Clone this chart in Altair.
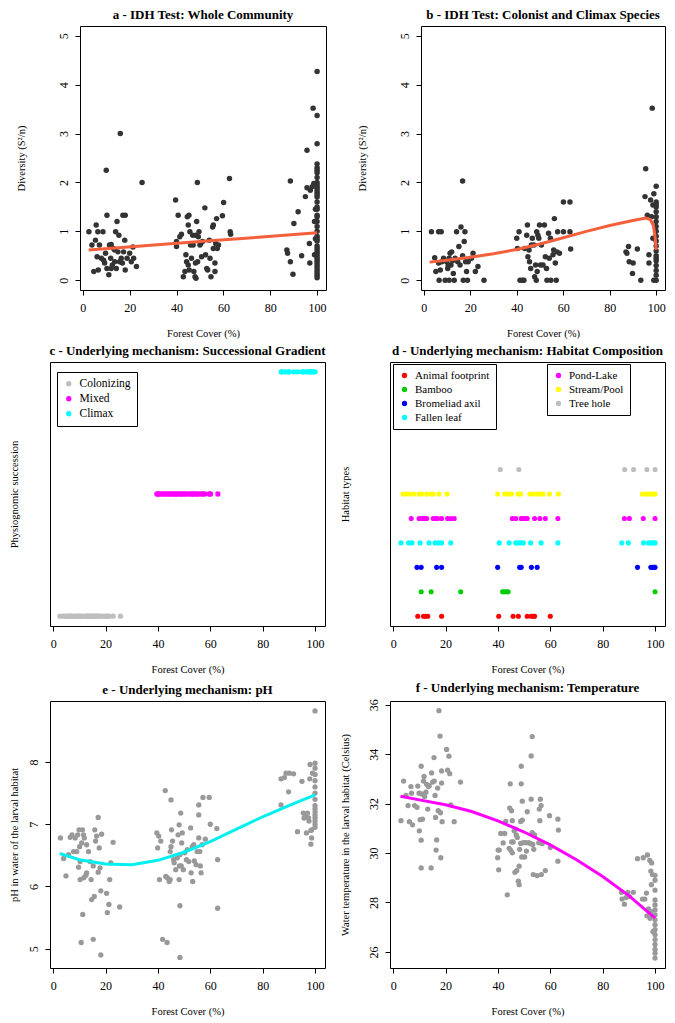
import altair as alt
import pandas as pd

FONT = "Liberation Serif"

# ---------------- data ----------------
forest_ticks = [0, 20, 40, 60, 80, 100]
div_ticks = [0, 1, 2, 3, 4, 5]
ph_ticks = [5, 6, 7, 8]
temp_ticks = [26, 28, 30, 32, 34, 36]

# a - whole community (forest cover, diversity)
a_low = [(2.6,0.99),(3.9,0.72),(4.7,0.18),(5.7,1.13),(5.4,0.82),(6.4,0.99),(6.1,0.48),(6.6,0.21),(7.1,0.72),(8.6,0.99),
         (7.9,0.45),(8.9,0.41),(9.3,0.35),(10.0,2.25),(10.3,1.33),(9.7,0.55),(10.3,0.24),(11.1,0.11),(11.4,0.72),(12.1,0.73),
         (11.9,0.45),(12.6,0.31),(13.1,0.65),(13.6,0.38),(14.0,0.99),(14.6,1.2),(16.0,3.0),(15.4,0.92),(15.0,0.58),(15.7,0.38),
         (16.4,0.45),(17.1,1.33),(18.1,1.33),(17.9,0.82),(17.4,0.58),(18.1,0.21),(16.9,0.35),(18.9,0.45),(20.0,0.55),(20.7,0.38),
         (21.4,0.68),(21.7,0.45),(22.9,0.28),(25.3,2.0),(13.6,0.62),(12.1,0.24),(14.3,0.24)]
a_mid = [(39.6,1.64),(40.0,0.79),(40.0,0.69),(40.7,1.33),(41.4,0.89),(42.1,0.94),(42.9,0.07),(43.6,0.18),(44.0,0.52),(44.6,1.30),
         (45.0,1.13),(44.3,0.38),(45.0,0.31),(45.4,0.21),(45.3,1.33),(45.7,0.99),(46.0,0.72),(46.4,0.45),(46.9,0.92),(47.1,0.72),
         (47.4,0.18),(47.9,0.07),(48.3,0.04),(48.1,0.35),(48.3,0.92),(48.6,1.20),(48.9,2.00),(49.0,0.38),(49.3,0.89),(49.6,0.99),
         (50.0,0.72),(50.3,0.75),(50.7,0.48),(51.1,0.79),(52.1,1.48),(52.4,0.52),(52.9,0.24),(53.3,0.21),(54.0,0.82),(54.3,0.45),
         (54.7,0.07),(55.4,1.09),(55.7,1.13),(55.7,0.65),(56.4,0.18),(56.4,0.35),(56.7,0.75),(57.1,1.26),(57.4,0.65),(57.9,0.72),
         (59.6,1.32),(60.1,1.59),(62.6,2.08),(62.9,0.99),(63.1,0.94)]
a_high = [(87.1,0.62),(87.4,0.55),(88.6,2.03),(88.6,0.38),(89.7,0.12),(90.1,1.16),(91.9,1.40),(93.4,0.50),(95.0,1.71),(95.7,2.66),
          (95.7,1.89),(96.7,0.75),(96.9,0.35),(97.1,1.84),(97.9,1.91),(98.3,3.52),(98.6,1.98),(98.9,1.20),(98.9,0.52),(99.3,1.45),
          (99.3,0.85)]
a_full_cover = [4.27,3.37,2.79,2.38,2.30,2.25,2.20,2.10,2.00,1.95,1.90,1.85,1.80,1.75,1.70,1.60,1.50,1.45,1.33,1.30,
                1.20,1.10,1.00,0.90,0.85,0.80,0.70,0.65,0.60,0.55,0.50,0.45,0.40,0.35,0.30,0.25,0.20,0.15,0.10,0.05]
a_fit = [(2.5,0.62),(25,0.70),(50,0.79),(75,0.88),(100,0.97)]

# b - colonist and climax species
b_low = [(3.3,0.99),(4.7,0.46),(5.2,0.18),(6.4,0.99),(7.5,0.99),(6.6,0.0),(6.4,0.35),(7.1,0.21),(7.8,0.38),(8.5,0.45),
         (9.2,0.0),(9.9,0.38),(10.3,0.24),(10.9,0.0),(10.9,0.45),(11.3,0.55),(11.7,0.31),(12.0,0.58),(12.7,0.14),(13.1,0.0),
         (13.5,0.45),(14.1,0.99),(14.6,0.38),(15.1,0.69),(15.6,0.31),(16.0,1.09),(16.7,2.03),(16.7,0.50),(17.0,0.0),(17.4,0.79),
         (17.7,0.99),(18.0,0.38),(18.4,0.18),(18.8,0.0),(19.1,0.38),(20.5,0.45),(21.2,0.55),(22.2,0.18),(23.3,0.28),(25.9,0.0),
         (10.5,0.30),(12.3,0.40)]
b_mid = [(40.0,0.86),(40.3,0.65),(41.0,0.99),(41.4,0.0),(42.4,0.0),(43.1,0.0),(43.4,0.65),(44.3,0.92),(44.6,1.13),(44.8,0.48),
         (45.3,0.62),(45.5,0.38),(46.0,0.24),(46.3,0.72),(46.7,0.86),(47.4,0.72),(47.7,0.07),(48.1,0.31),(48.4,0.0),(48.6,0.99),
         (48.8,0.18),(49.1,0.92),(49.5,0.86),(49.8,1.13),(50.2,0.31),(50.6,0.72),(51.3,0.31),(51.9,1.13),(52.3,0.48),(52.8,0.24),
         (53.0,0.0),(53.7,0.96),(54.0,0.45),(54.5,0.86),(54.7,0.0),(55.6,0.52),(56.2,1.26),(55.9,0.62),(56.6,0.35),(57.0,0.0),
         (57.3,0.58),(57.6,0.99),(58.4,0.55),(60.1,1.6),(60.1,0.99),(62.9,1.6),(62.9,0.99),(63.2,0.64)]
b_high = [(87.0,0.58),(87.4,0.55),(88.1,0.69),(88.4,0.38),(89.8,0.14),(90.1,0.35),(91.9,0.64),(93.4,0.0),(95.2,1.71),(95.5,2.28),
          (96.2,1.33),(96.9,0.52),(96.9,0.35),(97.6,1.64),(98.0,1.30),(98.3,3.52),(98.6,1.54),(98.6,0.86),(99.0,1.77),(99.0,0.0)]
b_full_cover = [1.92,1.60,1.55,1.50,1.40,1.30,1.20,1.10,1.00,0.90,0.80,0.70,0.60,0.50,0.45,0.40,0.30,0.20,0.10,0.0]
b_fit = [(2.5,0.37),(10,0.41),(20,0.47),(30,0.54),(40,0.63),(50,0.74),(60,0.87),(70,1.0),(80,1.12),(90,1.22),
         (95.5,1.27),(97.5,1.24),(98.8,1.12),(99.5,0.9),(100,0.62)]

# c - successional stage
stages = ["Colonizing", "Mixed", "Climax"]
stage_colors = ["#BEBEBE", "#FF00FF", "#00FFFF"]
c_colonizing = [2.6,3.9,4.7,5.4,6.1,6.6,7.1,7.9,8.6,9.3,10.0,10.3,11.1,11.9,12.6,13.1,13.6,14.0,14.6,15.0,15.4,16.0,
                16.4,16.9,17.4,18.1,18.9,20.0,20.7,21.4,22.9,25.7]
c_mixed = [39.6,40.0,40.7,41.4,42.1,42.9,43.6,44.3,45.0,45.7,46.4,46.9,47.4,48.3,48.9,49.6,50.3,51.1,52.1,52.9,53.3,
           54.0,54.7,55.4,56.4,57.1,57.9,59.6,60.1,62.9]
c_climax = [87.1,87.4,88.6,89.7,90.1,91.9,93.4,95.0,95.7,96.7,97.1,97.9,98.3,98.9,99.3,100.0]

# d - habitat composition
habitats = ["Animal footprint", "Bamboo", "Bromeliad axil", "Fallen leaf", "Pond-Lake", "Stream/Pool", "Tree hole"]
hab_colors = ["#FF0000", "#00CD00", "#0000FF", "#00FFFF", "#FF00FF", "#FFFF00", "#BEBEBE"]
d_animal = [9.4,11.6,12.2,13.2,18.5,40.3,45.8,47.8,51.2,52.8,53.5,54.0,60.0]
d_bamboo = [10.7,14.5,25.8,41.8,42.4,43.3,43.9,100.0]
d_bromeliad = [9.1,10.7,16.6,18.5,39.9,48.3,48.9,52.8,55.0,93.3,98.4,99.0,99.6,100.0]
d_leaf = [3.0,5.9,7.2,10.3,13.7,16.0,17.2,18.5,22.0,40.5,44.3,46.8,47.7,48.7,49.7,52.5,56.5,62.9,87.3,89.8,95.6,97.5,
          98.4,99.2,100.0]
d_pond = [6.9,9.9,11.0,11.9,12.8,15.3,16.2,17.0,18.5,20.8,22.0,23.3,45.5,46.8,48.9,49.7,50.6,51.2,54.0,56.0,58.1,62.9,
          88.3,90.2,95.5,100.0]
d_stream = [3.8,4.9,6.2,7.8,9.9,10.9,12.8,14.5,15.3,17.5,20.6,39.9,42.6,43.9,45.2,47.7,48.7,52.2,53.5,55.2,56.2,57.2,
            59.7,63.1,95.2,96.5,97.5,98.4,99.2,100.0]
d_treehole = [40.9,48.0,88.4,91.8,96.9,100.0]

# e - pH
e_low = [(2.8,6.78),(4.0,6.45),(4.9,6.17),(5.9,6.51),(6.5,6.79),(7.2,6.83),(7.8,6.56),(8.4,6.78),(9.0,6.56),(9.4,6.83),
         (9.7,6.31),(9.9,6.91),(10.1,6.64),(10.3,6.40),(10.3,6.11),(10.7,5.10),(10.9,6.70),(11.2,6.91),(11.3,5.55),(11.6,6.83),
         (11.7,6.14),(11.9,6.78),(12.5,6.18),(12.8,6.67),(12.8,6.22),(13.5,6.56),(14.1,6.40),(14.5,6.11),(14.7,5.79),(15.3,5.15),
         (15.3,6.33),(15.7,5.84),(15.9,6.91),(16.2,6.73),(16.6,6.81),(17.2,7.11),(17.2,6.23),(17.6,6.62),(17.9,6.30),(18.2,5.93),
         (18.2,4.90),(18.5,6.84),(20.4,5.89),(20.7,5.58),(21.3,5.71),(21.6,6.11),(22.0,6.38),(22.9,6.71),(25.4,5.67)]
e_mid = [(39.6,6.86),(39.9,6.62),(40.3,6.81),(40.6,6.11),(41.1,6.73),(41.8,5.15),(42.8,7.54),(43.0,6.16),(43.5,5.10),(43.6,6.14),
         (44.3,6.08),(44.7,6.11),(44.7,6.56),(45.0,6.64),(45.0,7.39),(45.2,6.91),(45.6,6.73),(46.0,6.43),(46.2,6.38),(46.8,6.27),
         (47.4,6.46),(47.7,6.83),(48.1,6.99),(48.1,6.11),(48.2,6.33),(48.4,4.86),(48.4,5.69),(48.4,6.51),(48.7,7.18),(48.9,6.33),
         (49.1,6.70),(49.3,6.86),(49.7,6.27),(50.2,6.54),(50.9,6.43),(51.2,6.59),(51.8,6.40),(52.5,6.94),(52.7,6.22),(53.1,6.64),
         (53.3,6.08),(53.7,6.67),(53.9,6.41),(54.6,6.35),(55.0,6.56),(55.6,7.31),(55.6,7.15),(55.6,6.78),(56.0,6.56),(56.2,6.33),
         (56.5,6.22),(56.9,6.67),(57.2,7.43),(58.1,6.76),(59.6,7.43),(60.0,7.00),(62.5,6.93),(62.8,6.43),(62.8,5.65)]
e_high = [(87.0,7.73),(87.0,7.31),(88.3,7.75),(88.9,7.82),(89.9,7.52),(90.2,7.82),(91.8,7.81),(93.3,6.88),(95.0,7.69),(95.5,7.18),
          (95.8,7.10),(96.5,7.15),(96.7,6.86),(97.1,7.18),(97.5,7.10),(97.7,7.05),(98.0,7.73),(98.1,7.96),(98.4,6.68),(98.4,6.90),
          (98.7,6.91),(98.7,6.78),(99.0,7.82)]
e_full_cover = [8.82,7.98,7.90,7.80,7.70,7.60,7.50,7.40,7.30,7.25,7.20,7.15,7.10,7.05,7.00,6.95]
e_fit = [(2.5,6.53),(10,6.43),(20,6.36),(30,6.35),(40,6.42),(50,6.55),(60,6.72),(70,6.92),(80,7.12),(90,7.30),(100,7.47)]

# f - temperature
f_low = [(3.0,31.31),(4.0,32.91),(4.9,32.33),(5.7,31.92),(6.2,31.27),(6.8,32.69),(7.0,32.42),(7.4,31.14),(8.2,31.92),(9.1,31.85),
         (9.4,32.71),(9.9,32.42),(10.0,30.90),(10.3,31.35),(10.7,33.51),(10.7,30.52),(10.7,29.40),(10.9,32.39),(11.2,31.37),(11.6,32.91),
         (11.8,33.10),(12.0,32.29),(12.5,32.46),(12.8,32.78),(13.2,31.78),(13.5,32.69),(13.8,32.73),(14.5,29.40),(14.7,33.24),(15.1,32.87),
         (15.6,33.86),(15.7,32.91),(16.0,32.33),(16.2,31.44),(16.4,30.12),(16.6,30.53),(17.0,32.63),(17.2,31.71),(17.5,35.76),(17.9,34.73),
         (18.1,31.63),(18.2,29.81),(18.5,32.83),(18.5,33.32),(18.7,31.27),(20.4,34.19),(20.8,33.35),(21.3,33.92),(21.6,33.21),(22.0,31.95),
         (23.3,31.27),(25.7,32.87)]
f_mid = [(39.9,29.81),(40.1,30.12),(40.3,29.32),(40.5,30.12),(41.1,30.79),(42.0,30.41),(42.6,30.79),(43.0,31.28),(43.6,28.31),(44.3,30.19),
         (44.5,31.82),(44.7,32.80),(44.9,30.11),(45.2,31.71),(45.3,30.45),(45.5,30.01),(45.5,31.31),(45.8,30.45),(46.2,30.90),(46.5,29.22),
         (46.8,30.97),(47.0,30.73),(47.2,29.29),(47.4,30.63),(47.8,28.86),(48.1,28.72),(48.1,29.47),(48.3,30.15),(48.7,30.39),(48.7,31.28),
         (48.9,32.80),(48.9,33.51),(49.1,29.84),(49.3,31.33),(49.3,32.10),(49.7,30.42),(50.2,29.84),(50.6,30.42),(50.9,30.08),(51.2,31.67),
         (51.8,30.42),(52.5,30.38),(52.7,33.93),(52.7,32.18),(53.1,34.71),(53.1,30.83),(53.3,30.35),(53.5,29.13),(53.7,30.15),(54.0,30.73),
         (55.0,29.09),(55.6,30.42),(55.8,31.78),(56.0,31.31),(56.2,32.18),(56.5,31.92),(56.6,29.13),(56.9,30.38),(58.1,29.29),(59.7,31.51),
         (60.0,30.22),(62.9,31.37),(63.1,30.93),(62.9,29.67)]
f_high = [(87.2,28.41),(87.4,28.14),(88.3,27.93),(88.9,28.20),(89.6,28.41),(90.2,28.24),(91.7,28.41),(93.3,29.77),(95.2,28.14),(95.5,29.81),
          (96.1,28.14),(96.7,28.38),(96.9,27.46),(97.1,29.92),(97.5,27.74),(98.0,29.70),(98.1,27.36),(98.4,29.27),(98.4,27.63),(98.6,28.72),
          (98.7,29.60),(99.0,29.13),(99.2,26.82)]
f_full_cover = [29.1,28.9,28.5,28.1,27.9,27.7,27.5,27.3,27.1,26.9,26.7,26.5,26.3,26.1,25.95,25.75]
f_fit = [(2.8,32.30),(10,32.15),(20,31.95),(30,31.68),(40,31.30),(50,30.85),(60,30.33),(70,29.73),(80,29.05),(90,28.28),(100,27.37)]

# ---------------- helpers ----------------
XDOM = [-1.2, 103.8]
W_TOP_A, W_TOP_B = 246, 244
W_L, W_R = 275, 275
H1, H2, H3 = 264, 264, 267


def frame(pairs):
    return pd.DataFrame(pairs, columns=["x", "y"])


def title(text):
    return alt.TitleParams(text=text, font=FONT, fontSize=13, fontWeight="bold", anchor="middle",
                           offset=4, color="black")


def xenc():
    return alt.X("x:Q", scale=alt.Scale(domain=XDOM, nice=False, zero=False),
                 axis=alt.Axis(values=forest_ticks, title="Forest Cover (%)", labelPadding=7,
                               titlePadding=15, labelAngle=0))


def yenc(domain, ticks, ttl, tx, h):
    ax = alt.Axis(values=ticks, title=ttl, labelAngle=270, labelAlign="center", labelBaseline="bottom",
                  labelPadding=5, titleX=tx, titleY=h / 2, titleAngle=270, titleAlign="center",
                  titleBaseline="middle")
    return alt.Y("y:Q", scale=alt.Scale(domain=domain, nice=False, zero=False), axis=ax)


def yenc_blank(domain, ttl, tx, h):
    ax = alt.Axis(labels=False, ticks=False, title=ttl, titleX=tx, titleY=h / 2, titleAngle=270,
                  titleAlign="center", titleBaseline="middle")
    return alt.Y("y:Q", scale=alt.Scale(domain=domain, nice=False, zero=False), axis=ax)


def scatter_fit(pts, fit, ydom, yticks, ytitle, tx, w, h, pcol, lcol, ttl, size):
    xe = xenc()
    ye = yenc(ydom, yticks, ytitle, tx, h)
    p = alt.Chart(frame(pts)).mark_circle(size=size, color=pcol, opacity=1).encode(x=xe, y=ye)
    l = alt.Chart(frame(fit)).mark_line(color=lcol, strokeWidth=3).encode(x=xe, y=ye)
    return alt.layer(p, l).properties(width=w, height=h, title=title(ttl))


div_title = "Diversity  (S²/n)"
pa = scatter_fit(a_low + a_mid + a_high + [(100.0, v) for v in a_full_cover], a_fit, [-0.2, 5.2], div_ticks,
                 div_title, -59, W_TOP_A, H1, "#333333", "#F4603C", "a - IDH Test: Whole Community", 30)
pb = scatter_fit(b_low + b_mid + b_high + [(100.0, v) for v in b_full_cover], b_fit, [-0.2, 5.2], div_ticks,
                 div_title, -59, W_TOP_B, H1, "#333333", "#F4603C", "b - IDH Test: Colonist and Climax Species", 30)
pe = scatter_fit(e_low + e_mid + e_high + [(100.0, v) for v in e_full_cover], e_fit, [4.69, 8.98], ph_ticks,
                 "pH in water of the larval habitat", -36, W_L, H3, "#999999", "#00F0F0",
                 "e - Underlying mechanism: pH", 28)
pf = scatter_fit(f_low + f_mid + f_high + [(100.0, v) for v in f_full_cover], f_fit, [25.35, 36.15], temp_ticks,
                 "Water temperature in the larval habitat (Celsius)", -45, W_R, H3, "#999999", "#FF00FF",
                 "f - Underlying mechanism: Temperature", 28)

# c panel
c_rows = ([(v, 1, "Colonizing") for v in c_colonizing] + [(v, 2, "Mixed") for v in c_mixed]
          + [(v, 3, "Climax") for v in c_climax])
c_df = pd.DataFrame(c_rows, columns=["x", "y", "stage"])


def legend(lx, ly, fs):
    return alt.Legend(title=None, orient="none", legendX=lx, legendY=ly, strokeColor="black",
                      fillColor="white", padding=6, symbolType="circle", symbolSize=28,
                      labelFont=FONT, labelFontSize=fs, labelColor="black", rowPadding=2,
                      labelOffset=5, cornerRadius=0, symbolStrokeWidth=0)


pc = alt.Chart(c_df).mark_circle(size=28, opacity=1).encode(
    x=xenc(),
    y=yenc_blank([0.92, 3.08], "Physiognomic succession", -36, H2),
    color=alt.Color("stage:N", scale=alt.Scale(domain=stages, range=stage_colors), legend=legend(7, 10, 11.5)),
).properties(width=W_L, height=H2, title=title("c - Underlying mechanism: Successional Gradient"))

# d panel
d_lists = [d_animal, d_bamboo, d_bromeliad, d_leaf, d_pond, d_stream, d_treehole]
d_rows = []
for i, (name, xs) in enumerate(zip(habitats, d_lists)):
    d_rows += [(v, i + 1, name) for v in xs]
d_df = pd.DataFrame(d_rows, columns=["x", "y", "hab"])
d_df1 = d_df[d_df["hab"].isin(habitats[:4])]
d_df2 = d_df[d_df["hab"].isin(habitats[4:])]
yd = yenc_blank([0.6, 11.4], "Habitat types", -45, H2)
d1 = alt.Chart(d_df1).mark_circle(size=26, opacity=1).encode(
    x=xenc(), y=yd,
    color=alt.Color("hab:N", scale=alt.Scale(domain=habitats[:4], range=hab_colors[:4]), legend=legend(3, 2, 11)),
)
d2 = alt.Chart(d_df2).mark_circle(size=26, opacity=1).encode(
    x=xenc(), y=yd,
    color=alt.Color("hab:N", scale=alt.Scale(domain=habitats[4:], range=hab_colors[4:]), legend=legend(157, 2, 11)),
)
pd_ = alt.layer(d1, d2).resolve_scale(color="independent").properties(
    width=W_R, height=H2, title=title("d - Underlying mechanism: Habitat Composition"))

spacer = alt.Chart(pd.DataFrame({"x": [0], "y": [0]})).mark_point(opacity=0).encode(
    x=alt.X("x:Q", axis=None), y=alt.Y("y:Q", axis=None)
).properties(width=1, height=H1, view=alt.ViewBackground(stroke="transparent"))

row1 = alt.hconcat(spacer,
                   alt.hconcat(pa, pb, spacing=95, bounds="flush").resolve_scale(color="independent"),
                   spacing=29, bounds="flush").resolve_scale(color="independent")
row2 = alt.hconcat(pc, pd_, spacing=65, bounds="flush").resolve_scale(color="independent")
row3 = alt.hconcat(pe, pf, spacing=65, bounds="flush").resolve_scale(color="independent")

top_rows = alt.vconcat(row1, row2, spacing=5).resolve_scale(color="independent")

chart = alt.vconcat(top_rows, row3, spacing=6).resolve_scale(
    color="independent"
).properties(padding=0).configure_view(
    stroke="black", strokeWidth=1
).configure_axis(
    labelFont=FONT, titleFont=FONT, labelFontSize=12, titleFontSize=10.5, labelColor="black",
    titleColor="black", tickColor="black", titleFontWeight="normal", grid=False, domain=False,
    tickSize=5, tickWidth=1
).configure_legend(
    labelFont=FONT
)

chart.save("out.html", embed_options={"renderer": "svg", "actions": False})
